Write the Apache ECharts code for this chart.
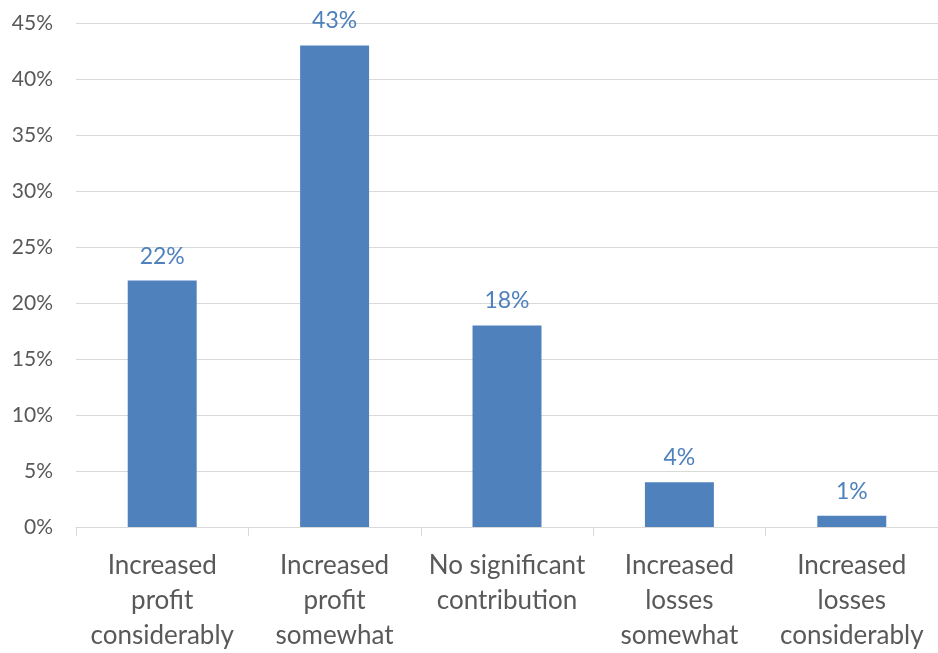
<!DOCTYPE html>
<html>
<head>
<meta charset="utf-8">
<script src="https://cdn.jsdelivr.net/npm/echarts@6/dist/echarts.min.js"></script>
<style>
  html, body { margin: 0; padding: 0; background: #fff; }
  #chart { width: 938px; height: 653px; }
</style>
</head>
<body>
<div id="chart"></div>
<script>
// Survey outcome categories and their shares (%)
const categories = [
  'Increased\nprofit\nconsiderably',
  'Increased\nprofit\nsomewhat',
  'No significant\ncontribution',
  'Increased\nlosses\nsomewhat',
  'Increased\nlosses\nconsiderably'
];
const shares = [22, 43, 18, 4, 1];

const FONT = 'Lato, "Open Sans", sans-serif';
const BLUE = '#4F81BD';

const chart = echarts.init(document.getElementById('chart'), null, { renderer: 'canvas' });
chart.setOption({
  animation: false,
  backgroundColor: '#ffffff',
  grid: { left: 76, right: -2, top: 23, bottom: 123, containLabel: false },
  xAxis: {
    type: 'category',
    data: categories,
    axisLine: { show: true, lineStyle: { color: '#D9D9D9', width: 1 } },
    axisTick: { show: true, alignWithLabel: false, length: 9, lineStyle: { color: '#D9D9D9' } },
    axisLabel: {
      interval: 0,
      margin: 21,
      color: '#595959',
      fontFamily: FONT,
      fontSize: 26,
      lineHeight: 35
    }
  },
  yAxis: {
    type: 'value',
    min: 0,
    max: 45,
    interval: 5,
    axisLine: { show: false },
    axisTick: { show: false },
    splitLine: { lineStyle: { color: '#D9D9D9', width: 1 } },
    axisLabel: {
      margin: 23,
      color: '#595959',
      fontFamily: FONT,
      fontSize: 21,
      formatter: '{value}%'
    }
  },
  series: [{
    type: 'bar',
    data: shares,
    barWidth: '40%',
    itemStyle: { color: BLUE },
    label: {
      show: true,
      position: 'top',
      distance: 13,
      color: BLUE,
      fontFamily: FONT,
      fontSize: 23,
      formatter: '{c}%'
    }
  }]
});
</script>
</body>
</html>
